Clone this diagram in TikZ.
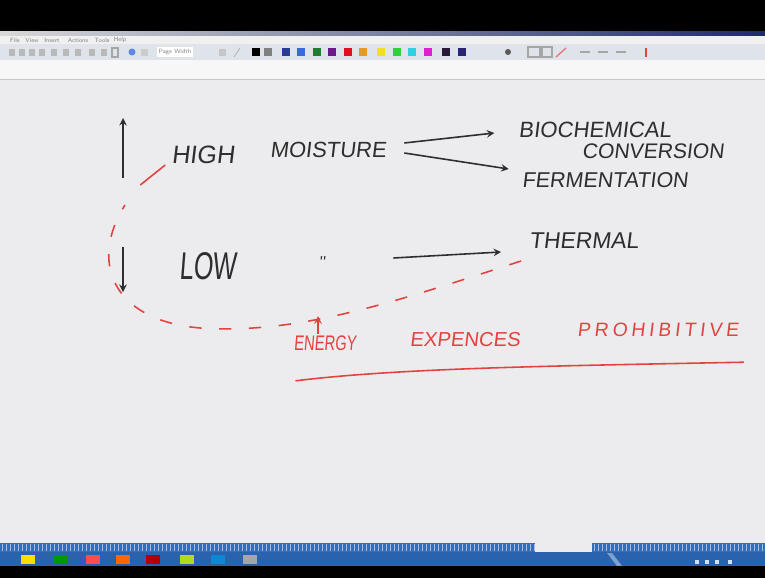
\documentclass[tikz,border=0pt]{standalone}
\usepackage{fontspec}
\usepackage{tikz}
\newfontfamily\hand[FakeSlant=0.12]{Liberation Sans}
\newfontfamily\handwide[FakeSlant=0.12,LetterSpace=20]{Liberation Sans}
\definecolor{ink}{HTML}{2E2E2E}
\definecolor{redink}{HTML}{E3433F}
\definecolor{board}{HTML}{ECECEF}
\definecolor{barlight}{HTML}{DFE3EA}
\definecolor{stripblue}{HTML}{2F6FC4}
\definecolor{taskblue}{HTML}{2B62AD}
\definecolor{pnavy}{HTML}{2A3C9A}
\definecolor{pblue}{HTML}{3A6AD8}
\definecolor{pgreen}{HTML}{1E7D32}
\definecolor{ppurple}{HTML}{6A1A8A}
\definecolor{pred}{HTML}{E01020}
\definecolor{porange}{HTML}{E89A20}
\definecolor{pyellow}{HTML}{F0E020}
\definecolor{plime}{HTML}{30D040}
\definecolor{pcyan}{HTML}{30D0E0}
\definecolor{pmagenta}{HTML}{E020D0}
\definecolor{pdark}{HTML}{2A1A3A}
\definecolor{pindigo}{HTML}{2A2478}

\begin{document}
\begin{tikzpicture}[x=0.02cm,y=-0.02cm,>=stealth,
  pen/.style={ink,line width=0.9pt},
  redpen/.style={redink,line width=0.9pt},
  word/.style={inner sep=0pt,text=ink},
  redword/.style={inner sep=0pt,text=redink},
  swatch/.style={minimum size=0.17cm,inner sep=0pt}]
  \useasboundingbox (0,0) rectangle (765,578);
  % window frame
  \fill[black] (0,0) rectangle (765,31);
  \shade[left color=gray!30,right color=pnavy!70!black] (0,31) rectangle (765,36);
  \fill[gray!12] (0,36) rectangle (765,44);
  \fill[barlight] (0,44) rectangle (765,60);
  \fill[gray!6] (0,60) rectangle (765,79);
  \draw[gray!45] (0,79) -- (765,79);
  \fill[board] (0,79.5) rectangle (765,543);
  \fill[stripblue] (0,543) rectangle (765,552);
  \foreach \sx in {2,6,...,764}
    \draw[white!55!stripblue,line width=0.5pt] (\sx,544) -- (\sx,551);
  \fill[board] (535,543) rectangle (592,553);
  \fill[taskblue] (0,552) rectangle (765,566);
  \fill[white!40!taskblue] (607,553) -- (612,553) -- (622,566) -- (617,566) -- cycle;
  \fill[black] (0,566) rectangle (765,578);
  % menu and toolbar
  \foreach \mw/\mx [count=\i] in {File/15, View/32, Insert/52, Actions/78, Tools/102, Help/120}
    \node[inner sep=0pt,text=gray,font=\sffamily\fontsize{3.5}{4}\selectfont] (menu\i) at (\mx,40) {\mw};
  \foreach \ix in {12,22,32,42,54,66,78,92,104}
    \fill[gray!55] (\ix-3,49) rectangle (\ix+3,56);
  \draw[gray!70,line width=0.6pt] (112,48) rectangle (118,57);
  \fill[pblue!80] (132,52) circle (3.5);
  \fill[gray!40] (141,49) rectangle (148,56);
  \node[inner sep=1pt,fill=white,text=gray,font=\sffamily\fontsize{3.5}{4}\selectfont] (zoombox) at (175,52) {Page Width};
  \fill[gray!45] (219,49) rectangle (226,56);
  \draw[gray!60] (234,57) -- (240,48);
  \foreach \px/\pc [count=\i] in {256/black, 268/gray, 286/pnavy, 301/pblue, 317/pgreen,
      332/ppurple, 348/pred, 363/porange, 381/pyellow, 397/plime, 412/pcyan,
      428/pmagenta, 446/pdark, 462/pindigo}
    \node[swatch,fill=\pc] (sw\i) at (\px,52) {};
  \fill[gray!70!black] (508,52) circle (3);
  \draw[gray!70,line width=0.6pt] (528,47) rectangle (540,57) (542,47) rectangle (552,57);
  \draw[redink!70,line width=0.8pt] (556,57) -- (566,48);
  \foreach \ix in {580,598,616}
    \draw[gray!70,line width=0.8pt] (\ix,52) -- (\ix+10,52);
  \draw[redink,line width=1pt] (646,57) -- (646,48);
  \foreach \ix/\ic in {28/yellow!80!orange, 60/green!60!black, 93/red!70, 123/orange!80!red,
      153/red!70!black, 187/yellow!70!green, 218/cyan!70!blue, 250/gray!70}
    \fill[\ic] (\ix-7,555) rectangle (\ix+7,564);
  \foreach \ix in {697,707,717,730}
    \fill[white!80!taskblue] (\ix-2,560) rectangle (\ix+2,564);
  % board: moisture notes
  \node[word,font=\hand\fontsize{14.3}{16}\selectfont] (high) at (203,155) {HIGH};
  \node[word,font=\hand\fontsize{12.5}{14}\selectfont] (moist) at (328,150) {MOISTURE};
  \node[word,font=\hand\fontsize{12.6}{14}\selectfont] (bio) at (595,130) {BIOCHEMICAL};
  \node[word,font=\hand\fontsize{12}{14}\selectfont] (conv) at (653,151) {CONVERSION};
  \node[word,font=\hand\fontsize{12.2}{14}\selectfont] (ferm) at (605,180) {FERMENTATION};
  \node[word,font=\hand\fontsize{22}{24}\selectfont] (low) at (208,266) {\scalebox{0.65}[1]{LOW}};
  \node[word,font=\hand\fontsize{9}{10}\selectfont] (ditto) at (322,262) {''};
  \node[word,font=\hand\fontsize{13}{15}\selectfont] (therm) at (584,241) {THERMAL};
  \node[redword,font=\hand\fontsize{12}{14}\selectfont] (energy) at (325,343) {\scalebox{0.7}[1]{ENERGY}};
  \node[redword,font=\hand\fontsize{11.5}{13}\selectfont] (expen) at (465,340) {EXPENCES};
  \node[redword,font=\handwide\fontsize{11}{13}\selectfont] (prohib) at (658,330) {PROHIBITIVE};
  \coordinate (upfoot) at (123,178);
  \coordinate (downtop) at (123,247);
  \draw[pen,->] (upfoot) -- ++(0,-60);
  \draw[pen,->] (downtop) -- ++(0,45);
  \draw[pen,->] ([shift={(18,-7)}]moist.east) -- ([shift={(-24,3)}]bio.west);
  \draw[pen,->] ([shift={(18,3)}]moist.east) -- ([shift={(-13,-11)}]ferm.west);
  \draw[pen,->] ([shift={(68,-4)}]ditto.east) -- ([shift={(-28,11)}]therm.west);
  % red loop and underline
  \draw[redpen,dash pattern=on 7pt off 10pt] ([shift={(-8,20)}]therm.west)
    .. controls (400,300) and (300,335) .. (200,328)
    .. controls (110,320) and (90,260) .. (125,205);
  \draw[redpen] ([shift={(-31,30)}]high.west) -- ([shift={(-6,10)}]high.west);
  \draw[redpen,->] ([shift={(-7,-1)}]energy.north) -- ++(0,-18);
  \draw[redpen] ([shift={(2,30)}]energy.south west)
    .. controls (400,368) and (550,366) .. ([shift={(5,25)}]prohib.south east);
\end{tikzpicture}
\end{document}
